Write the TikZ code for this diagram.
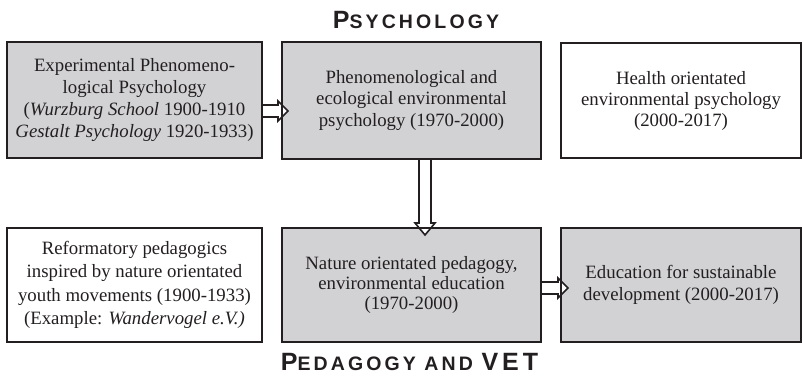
\documentclass[tikz,border=0pt]{standalone}
\usepackage{fontspec}
\setmainfont{Liberation Serif}
\newfontfamily\headfont[LetterSpace=16]{Liberation Sans}
\usetikzlibrary{calc}
\definecolor{ink}{HTML}{231F20}
\definecolor{boxgray}{HTML}{D2D2D4}
\tikzset{
  box/.style={draw=ink, line width=1.8pt, outer sep=0pt, inner sep=2pt, align=center,
    text=ink, font=\fontsize{18.8}{22}\selectfont},
  graybox/.style={box, fill=boxgray},
  whitebox/.style={box, fill=white},
  blockarrow/.style={draw=ink, line width=1.6pt, fill=white, line join=miter},
  rim/.style={draw=ink, line width=1.8pt},
  heading/.style={text=ink, inner sep=0pt, anchor=base}
}
\begin{document}
\begin{tikzpicture}[x=1pt,y=-1pt]
\useasboundingbox (0,0) rectangle (803,375);
% headings
\node[heading] (hpsy) at (416,28) {\headfont\bfseries\fontsize{25}{25}\selectfont P\fontsize{19.5}{19.5}\selectfont SYCHOLOGY};
\node[heading] (hped) at (409.5,370.5) {\headfont\bfseries\fontsize{25}{25}\selectfont P\fontsize{19.5}{19.5}\selectfont EDAGOGY AND \fontsize{25}{25}\selectfont VET};
% top row
\node[graybox, minimum width=255pt, minimum height=116pt, font=\fontsize{18.8}{22.3}\selectfont] (b1) at (134.5,100)
  {Experimental Phenomeno-\\ logical Psychology\\ (\textit{Wurzburg School} 1900-1910\\ \textit{Gestalt Psychology} 1920-1933)};
\node[graybox, minimum width=259pt, minimum height=117pt, font=\fontsize{18.8}{21.7}\selectfont] (b2) at (411.5,100.5)
  {Phenomenological and\\ ecological environmental\\ psychology (1970-2000)};
\node[whitebox, minimum width=240pt, minimum height=115pt, font=\fontsize{18.8}{21}\selectfont] (b3) at (681,100.5)
  {Health orientated\\ environmental psychology\\ (2000-2017)};
% bottom row
\node[whitebox, minimum width=255pt, minimum height=114pt, font=\fontsize{18.8}{23.5}\selectfont] (b4) at (134.5,285)
  {Reformatory pedagogics\\ inspired by nature orientated\\ youth movements (1900-1933)\\ (Example: \textit{Wandervogel e.V.)}};
\node[graybox, minimum width=259pt, minimum height=114pt, font=\fontsize{18.8}{20}\selectfont] (b5) at (411.5,285)
  {Nature orientated pedagogy,\\ environmental education\\ (1970-2000)};
\node[graybox, minimum width=240pt, minimum height=114pt, font=\fontsize{18.8}{21.7}\selectfont] (b6) at (681,285)
  {Education for sustainable\\ development (2000-2017)};
% arrow b1 -> b2
\coordinate (a1s) at ($(b1.east)+(0,11)$);
\coordinate (a1e) at ($(b2.west |- a1s)$);
\path[blockarrow] ($(a1s)+(0,-6)$) -- ($(a1e)+(-4,-6)$) -- ($(a1e)+(-4,-10)$) -- ($(a1e)+(6,0)$)
  -- ($(a1e)+(-4,10)$) -- ($(a1e)+(-4,6)$) -- ($(a1s)+(0,6)$);
% arrow b2 -> b5
\coordinate (a2s) at ($(b2.south)+(13.5,0)$);
\coordinate (a2e) at ($(b5.north -| a2s)$);
\path[blockarrow] ($(a2s)+(-6,0)$) -- ($(a2e)+(-6,-5)$) -- ($(a2e)+(-10,-5)$) -- ($(a2e)+(0,7)$)
  -- ($(a2e)+(10,-5)$) -- ($(a2e)+(6,-5)$) -- ($(a2s)+(6,0)$);
% arrow b5 -> b6
\coordinate (a3s) at ($(b5.east)+(0,3)$);
\coordinate (a3e) at ($(b6.west |- a3s)$);
\path[blockarrow] ($(a3s)+(0,-6)$) -- ($(a3e)+(-3,-6)$) -- ($(a3e)+(-3,-10)$) -- ($(a3e)+(7,0)$)
  -- ($(a3e)+(-3,10)$) -- ($(a3e)+(-3,6)$) -- ($(a3s)+(0,6)$);
% redraw box borders over the arrows
\foreach \b in {b1,b2,b5,b6} {\draw[rim] (\b.south west) rectangle (\b.north east);}
\end{tikzpicture}
\end{document}
